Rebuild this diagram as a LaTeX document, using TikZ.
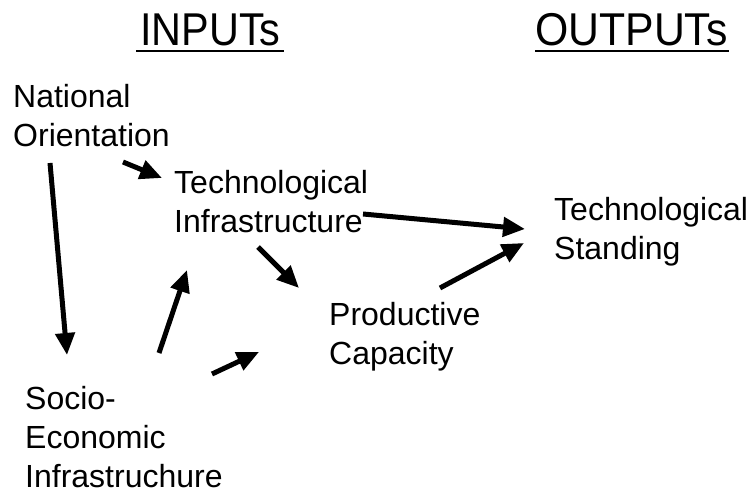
\documentclass[tikz,border=0pt]{standalone}
\usepackage{fontspec}
\setmainfont{Liberation Sans}
\usetikzlibrary{arrows.meta}
\begin{document}
\begin{tikzpicture}[x=1pt,y=-1pt,
  label/.style={anchor=north west,inner sep=0pt,align=left,
    font=\fontsize{32}{39}\selectfont},
  heading/.style={anchor=base west,inner sep=0pt,
    font=\fontsize{46}{46}\selectfont},
  flow/.style={line width=5pt,-{Triangle[length=22pt,width=19pt]}},
  headrule/.style={line width=2.2pt}]
\useasboundingbox (0,0) rectangle (752,494);

% column headings, underlined
\node[heading] (inputs) at (140,46) {\scalebox{0.9}[1]{INPUTs}};
\node[heading] (outputs) at (535,46) {\scalebox{0.93}[1]{OUTPUTs}};
\draw[headrule] ([shift={(-4pt,-5pt)}]inputs.base west)
  -- ([shift={(3pt,-5pt)}]inputs.base east);
\draw[headrule] ([shift={(0pt,-5pt)}]outputs.base west)
  -- ([shift={(1pt,-5pt)}]outputs.base east);

% factors
\node[label] (nat)   at (13,84)  {National\\Orientation};
\node[label] (tech)  at (174,170) {Technological\\Infrastructure};
\node[label] (stand) at (554,197) {Technological\\Standing};
\node[label] (prod)  at (329,302) {Productive\\Capacity};
\node[label] (socio) at (25,386) {Socio-\\Economic\\Infrastruchure};

% links between the factors
\draw[flow] ([shift={(110,78)}]nat.north west) -- ([shift={(-12,8)}]tech.north west);
\draw[flow] ([shift={(37,79)}]nat.north west) -- ([shift={(42,-31)}]socio.north west);
\draw[flow] ([shift={(134,-33)}]socio.north west) -- ([shift={(13,100)}]tech.north west);
\draw[flow] ([shift={(187,-12)}]socio.north west) -- ([shift={(-70,50)}]prod.north west);
\draw[flow] ([shift={(84,77)}]tech.north west) -- ([shift={(-30,-14)}]prod.north west);
\draw[flow] ([shift={(189,44)}]tech.north west) -- ([shift={(-29,32)}]stand.north west);
\draw[flow] ([shift={(111,-14)}]prod.north west) -- ([shift={(-30,46)}]stand.north west);
\end{tikzpicture}
\end{document}
